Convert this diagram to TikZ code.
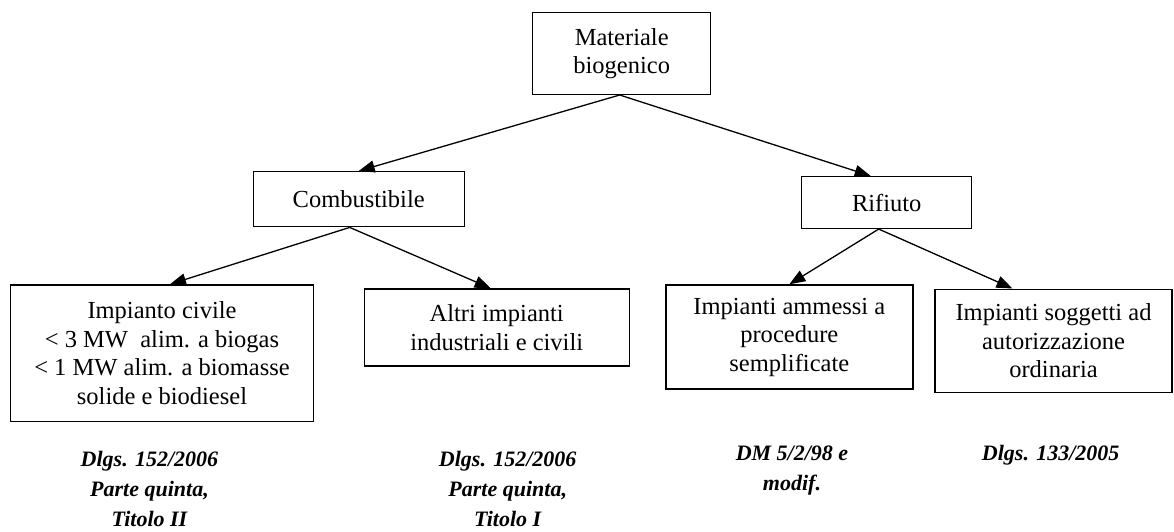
\documentclass[tikz,border=0pt]{standalone}
\usepackage{fontspec}
\setmainfont{Liberation Serif}
\usetikzlibrary{arrows.meta}
\begin{document}
\begin{tikzpicture}[x=1pt,y=-1pt,
  box/.style={draw, line width=1.4pt, inner sep=0pt, align=center, font=\fontsize{24.5}{28.5}\selectfont},
  lbl/.style={inner sep=0pt, align=center, font=\fontsize{22}{30}\selectfont\bfseries\itshape},
  arr/.style={-{Triangle[length=16pt,width=12pt]}, line width=1.3pt}]
\useasboundingbox (0,0) rectangle (1174,531);
\node[box, minimum width=178pt, minimum height=81.6pt] (mat) at (621.7,53.5) {Materiale\\biogenico};
\node[box, minimum width=211pt, minimum height=55pt] (comb) at (358.7,199.2) {Combustibile};
\node[box, minimum width=170pt, minimum height=51.7pt] (rif) at (886.7,202.5) {Rifiuto};
\node[box, minimum width=302.7pt, minimum height=136.7pt] (b1) at (162,353.3) {Impianto civile\\< 3 MW\ \ alim. a biogas\\< 1 MW alim. a biomasse\\solide e biodiesel};
\node[box, minimum width=265pt, minimum height=77pt] (b2) at (496.7,327.5) {Altri impianti\\industriali e civili};
\node[box, minimum width=247pt, minimum height=104pt] (b3) at (789.3,337) {Impianti ammessi a\\procedure\\semplificate};
\node[box, minimum width=237pt, minimum height=103pt] (b4) at (1053.5,340.7) {Impianti soggetti ad\\autorizzazione\\ordinaria};
\node[lbl, anchor=north] (l1) at (149.5,451) {Dlgs. 152/2006\\Parte quinta,\\Titolo II};
\node[lbl, anchor=north] (l2) at (507.7,451) {Dlgs. 152/2006\\Parte quinta,\\Titolo I};
\node[lbl, anchor=north] (l3) at (792,446) {DM 5/2/98 e\\modif.};
\node[lbl, anchor=north] (l4) at (1050.7,445) {Dlgs. 133/2005};
\draw[arr] ([xshift=-2pt]mat.south) -- (comb.north);
\draw[arr] ([xshift=-2pt]mat.south) -- ([xshift=-16pt]rif.north);
\draw[arr] ([xshift=-9pt]comb.south) -- ([xshift=8pt]b1.north);
\draw[arr] ([xshift=-9pt]comb.south) -- ([xshift=-6pt]b2.north);
\draw[arr] ([xshift=-8pt]rif.south) -- (b3.north);
\draw[arr] ([xshift=-8pt]rif.south) -- ([xshift=-41pt]b4.north);
\end{tikzpicture}
\end{document}
